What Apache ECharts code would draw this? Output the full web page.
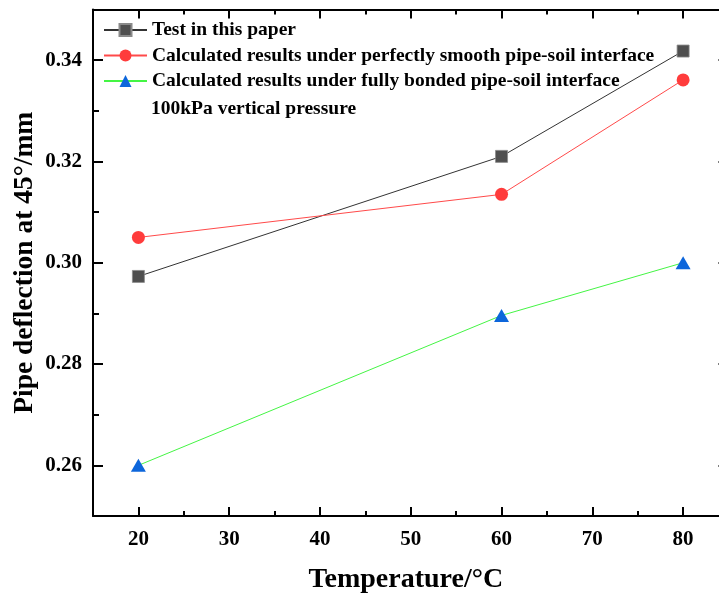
<!DOCTYPE html>
<html>
<head>
<meta charset="utf-8">
<script src="https://cdn.jsdelivr.net/npm/echarts@6/dist/echarts.min.js"></script>
<style>
html,body{margin:0;padding:0;background:#fff;}
#chart{width:719px;height:593px;}
</style>
</head>
<body>
<div id="chart"></div>
<script>
var temperatures = [20, 60, 80];
var testValues = [0.2973, 0.3210, 0.3418];
var smoothValues = [0.3050, 0.3135, 0.3361];
var bondedValues = [0.2600, 0.2896, 0.3000];
var seriesNames = [
  'Test in this paper',
  'Calculated results under perfectly smooth pipe-soil interface',
  'Calculated results under fully bonded pipe-soil interface'
];
var noteText = '100kPa vertical pressure';
var xMajorTicks = [20, 30, 40, 50, 60, 70, 80];
var yMajorTicks = [0.26, 0.28, 0.30, 0.32, 0.34];
var xTitle = 'Temperature/\u00B0C';
var yTitle = 'Pipe deflection at 45\u00B0/mm';

var FONT = "'Times New Roman', 'Liberation Serif', serif";
function pairs(xs, ys){ return xs.map(function(x,i){ return [x, ys[i]]; }); }

var lineStyleAxis = {color:'#000', width:2};
function xAx(pos, major, showLine, showLabel, extra){
  var a = {
    type:'value', min:15, max:85, position:pos, gridIndex:0,
    splitLine:{show:false},
    axisLine:{show:showLine, onZero:false, lineStyle:lineStyleAxis},
    axisTick:{show:true, inside:true, length: major?9:5, lineStyle:{color:'#000', width:2}},
    axisLabel:{show:showLabel, margin:13, color:'#000', fontFamily:FONT, fontWeight:'bold', fontSize:21}
  };
  if (major){ a.axisTick.customValues = xMajorTicks; a.axisLabel.customValues = xMajorTicks; }
  else { a.interval = 5; }
  if (extra) for (var k in extra) a[k] = extra[k];
  return a;
}
function yAx(pos, major, showLine, showLabel, extra){
  var a = {
    type:'value', min:0.25, max:0.35, position:pos, gridIndex:0,
    splitLine:{show:false},
    axisLine:{show:showLine, onZero:false, lineStyle:lineStyleAxis},
    axisTick:{show:true, inside:true, length: major?10:6, lineStyle:{color:'#000', width:2}},
    axisLabel:{show:showLabel, margin:11, color:'#000', fontFamily:FONT, fontWeight:'bold', fontSize:21,
      formatter:function(v){ return v.toFixed(2); }}
  };
  if (major){ a.axisTick.customValues = yMajorTicks; a.axisLabel.customValues = yMajorTicks; }
  else { a.interval = 0.01; }
  if (extra) for (var k in extra) a[k] = extra[k];
  return a;
}

var chart = echarts.init(document.getElementById('chart'), null, {renderer:'canvas'});
chart.setOption({
  backgroundColor:'#fff',
  animation:false,
  grid:{left:93, top:9.5, right:-9.5, bottom:77, containLabel:false, outerBoundsMode:'none'},
  xAxis:[
    xAx('bottom', true, true, true, {
      name: xTitle, nameLocation:'middle', nameGap:50, nameMoveOverlap:false,
      nameTextStyle:{color:'#000', fontFamily:FONT, fontWeight:'bold', fontSize:28, padding:[0,10,0,0]}
    }),
    xAx('bottom', false, false, false),
    xAx('top', true, true, false),
    xAx('top', false, false, false)
  ],
  yAxis:[
    yAx('left', true, true, true, {
      name: yTitle, nameLocation:'middle', nameGap:54, nameRotate:90, nameMoveOverlap:false,
      nameTextStyle:{color:'#000', fontFamily:FONT, fontWeight:'bold', fontSize:27.5}
    }),
    yAx('left', false, false, false),
    yAx('right', true, true, false),
    yAx('right', false, false, false)
  ],
  legend:{
    orient:'vertical', left:98, top:15, itemWidth:43, itemHeight:15, itemGap:5.5,
    data: seriesNames,
    textStyle:{color:'#000', fontFamily:FONT, fontWeight:'bold', fontSize:19.5, lineHeight:19}
  },
  graphic:[{
    type:'text', left:151, top:99,
    style:{text:noteText, fill:'#000', font:'bold 19.5px ' + FONT}
  }],
  series:[
    {name:seriesNames[0], type:'line', data:pairs(temperatures, testValues),
     symbol:'rect', symbolSize:12,
     itemStyle:{color:'#4f4f4f', borderColor:'#8a8a8a', borderWidth:0.8},
     lineStyle:{color:'#333333', width:1}},
    {name:seriesNames[1], type:'line', data:pairs(temperatures, smoothValues),
     symbol:'circle', symbolSize:13,
     itemStyle:{color:'#ff3c3c'},
     lineStyle:{color:'#ff4a4a', width:1}},
    {name:seriesNames[2], type:'line', data:pairs(temperatures, bondedValues),
     symbol:'triangle', symbolSize:[15,13],
     itemStyle:{color:'#0d66db'},
     lineStyle:{color:'#44f544', width:1}}
  ]
});
</script>
</body>
</html>
